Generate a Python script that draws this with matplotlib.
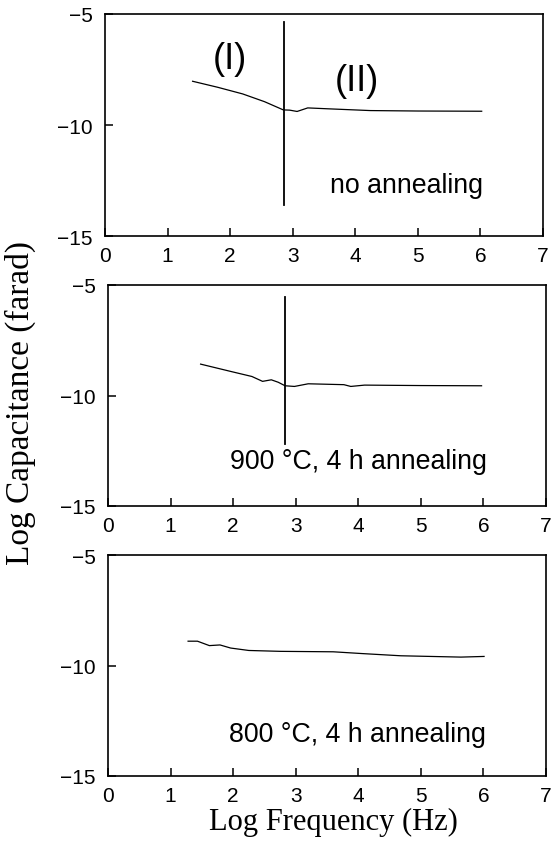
import matplotlib
matplotlib.use("Agg")
import matplotlib.pyplot as plt

# ---- data ----
x_none = [1.40, 1.80, 2.20, 2.55, 2.85, 2.95, 3.07, 3.24, 3.56, 4.24, 5.00, 6.02]
y_none = [-8.03, -8.30, -8.60, -8.95, -9.32, -9.33, -9.39, -9.23, -9.27, -9.35, -9.37, -9.38]
vline_none = 2.86
vline_none_y = [-5.34, -13.62]

x_900 = [1.48, 1.96, 2.30, 2.47, 2.61, 2.72, 2.83, 2.98, 3.20, 3.77, 3.88, 4.10, 5.00, 5.97]
y_900 = [-8.58, -8.91, -9.14, -9.36, -9.29, -9.40, -9.56, -9.59, -9.47, -9.51, -9.59, -9.53, -9.55, -9.56]
vline_900 = 2.83
vline_900_y = [-5.53, -12.2]

x_800 = [1.28, 1.43, 1.62, 1.79, 1.96, 2.25, 2.76, 3.60, 4.06, 4.68, 5.64, 6.01]
y_800 = [-8.90, -8.90, -9.10, -9.07, -9.21, -9.32, -9.36, -9.38, -9.46, -9.56, -9.62, -9.59]

xticks = [0, 1, 2, 3, 4, 5, 6, 7]
yticks = [-15, -10, -5]
labels = ["no annealing", "900 \u00b0C, 4 h annealing", "800 \u00b0C, 4 h annealing"]
xlabel = "Log Frequency (Hz)"
ylabel = "Log Capacitance (farad)"

W, H = 553, 854
fig = plt.figure(figsize=(W / 100, H / 100), dpi=100)

boxes = [(105, 543, 15, 237), (108, 546, 286, 507), (108, 546, 556, 777)]
axes = []
for (l, r, t, b) in boxes:
    ax = fig.add_axes([l / W, 1 - b / H, (r - l) / W, (b - t) / H])
    axes.append(ax)

series = [(x_none, y_none), (x_900, y_900), (x_800, y_800)]
for ax, (xs, ys) in zip(axes, series):
    ax.plot(xs, ys, color="black", lw=0.9)
    ax.set_xlim(0, 7)
    ax.set_ylim(-15, -5)
    ax.set_xticks(xticks)
    ax.set_yticks(yticks)
    ax.tick_params(direction="in", length=6, width=1.1, labelsize=15,
                   top=False, right=False)
    ax.tick_params(axis="x", pad=7)
    ax.tick_params(axis="y", pad=9)
    for lbl in ax.get_xticklabels() + ax.get_yticklabels():
        lbl.set_family("Liberation Sans")
    for s in ax.spines.values():
        s.set_linewidth(1.2)

# vertical boundary lines
axes[0].plot([vline_none, vline_none], vline_none_y, color="black", lw=1.3)
axes[1].plot([vline_900, vline_900], vline_900_y, color="black", lw=1.3)

# region labels
axes[0].text(2.0, -7.0, "(I)", fontsize=26, family="Liberation Sans",
             ha="center", va="center")
axes[0].text(4.03, -8.0, "(II)", fontsize=26, family="Liberation Sans",
             ha="center", va="center")

# annotations
axes[0].text(6.04, -12.7, labels[0], fontsize=19.3, family="Liberation Sans",
             ha="right", va="center")
axes[1].text(6.06, -12.95, labels[1], fontsize=19.3, family="Liberation Sans",
             ha="right", va="center")
axes[2].text(6.04, -13.1, labels[2], fontsize=19.3, family="Liberation Sans",
             ha="right", va="center")

fig.text(333 / W, 1 - 822 / H, xlabel, fontsize=22, family="Liberation Serif",
         ha="center", va="center")
fig.text(20 / W, 1 - 403 / H, ylabel, fontsize=24, family="Liberation Serif",
         ha="center", va="center", rotation=90)

fig.savefig("out.png", dpi=100)
